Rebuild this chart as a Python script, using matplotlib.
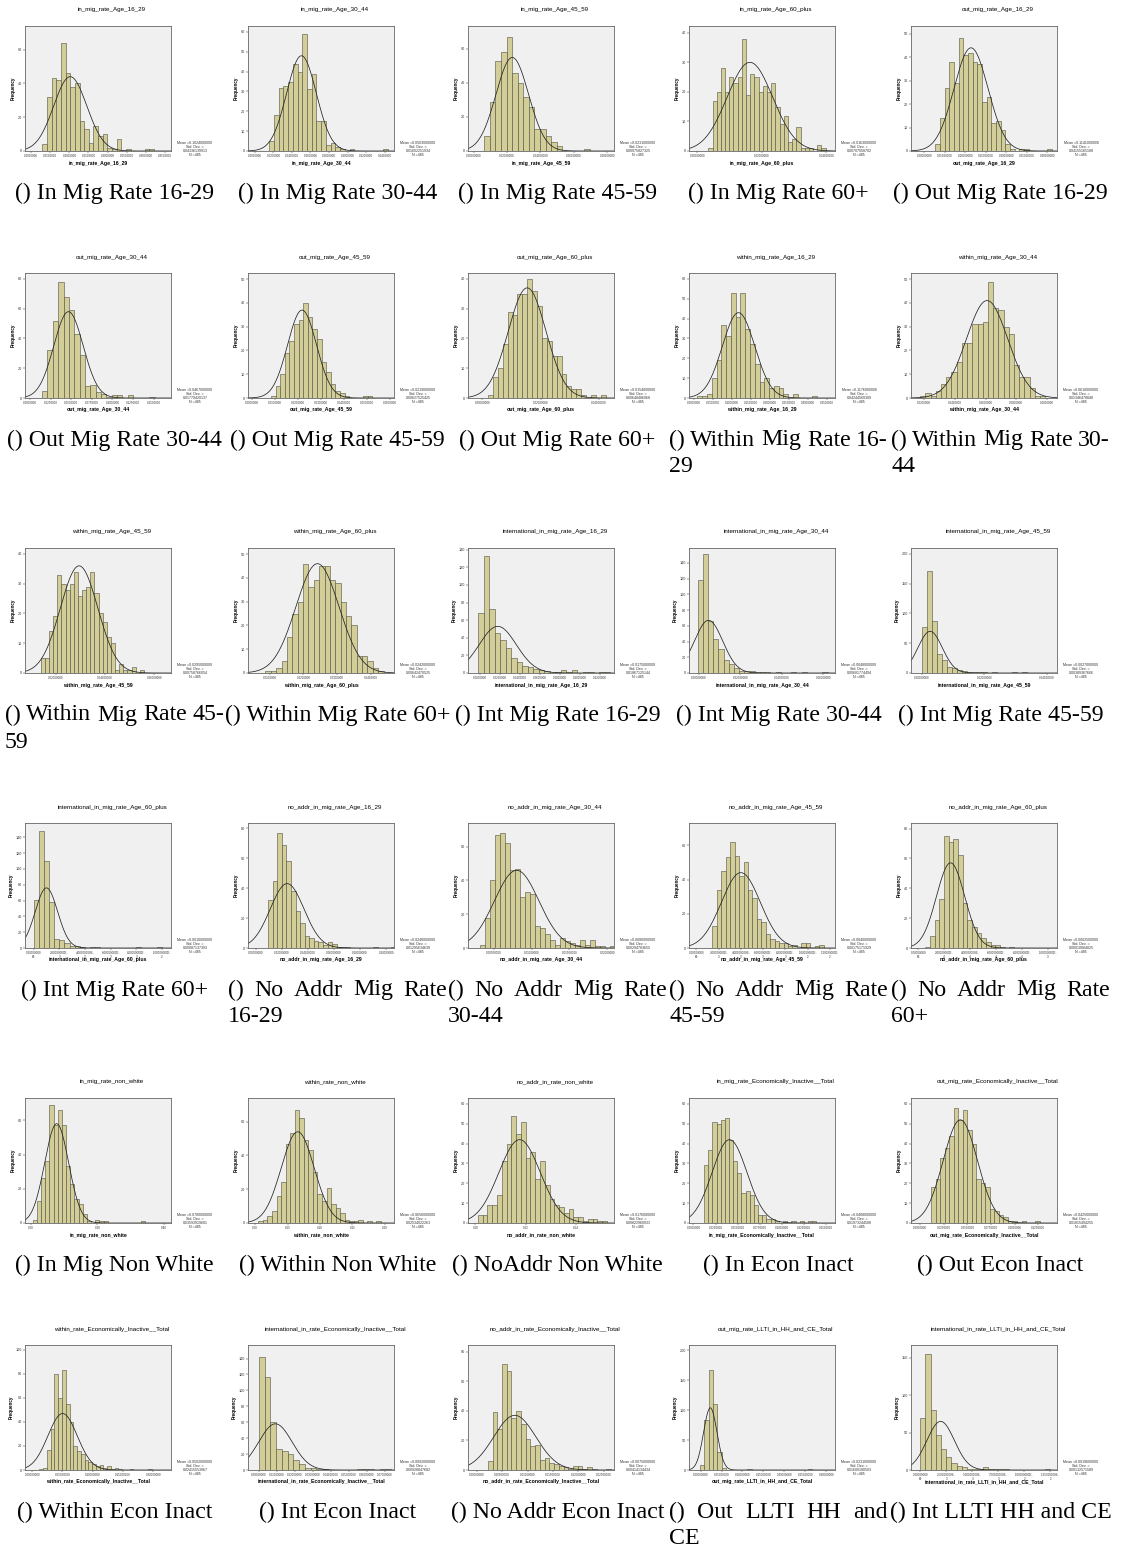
import numpy as np
import matplotlib
matplotlib.use("Agg")
import matplotlib.pyplot as plt

W, H = 1124, 1549

titles = [
    "in_mig_rate_Age_16_29", "in_mig_rate_Age_30_44", "in_mig_rate_Age_45_59",
    "in_mig_rate_Age_60_plus", "out_mig_rate_Age_16_29",
    "out_mig_rate_Age_30_44", "out_mig_rate_Age_45_59", "out_mig_rate_Age_60_plus",
    "within_mig_rate_Age_16_29", "within_mig_rate_Age_30_44",
    "within_mig_rate_Age_45_59", "within_mig_rate_Age_60_plus",
    "international_in_mig_rate_Age_16_29", "international_in_mig_rate_Age_30_44",
    "international_in_mig_rate_Age_45_59",
    "international_in_mig_rate_Age_60_plus", "no_addr_in_mig_rate_Age_16_29",
    "no_addr_in_mig_rate_Age_30_44", "no_addr_in_mig_rate_Age_45_59",
    "no_addr_in_mig_rate_Age_60_plus",
    "in_mig_rate_non_white", "within_rate_non_white", "no_addr_in_rate_non_white",
    "in_mig_rate_Economically_Inactive__Total",
    "out_mig_rate_Economically_Inactive__Total",
    "within_rate_Economically_Inactive__Total",
    "international_in_rate_Economically_Inactive__Total",
    "no_addr_in_rate_Economically_Inactive__Total",
    "out_mig_rate_LLTI_in_HH_and_CE_Total",
    "international_in_rate_LLTI_in_HH_and_CE_Total",
]

captions = [
    "() In Mig Rate 16-29", "() In Mig Rate 30-44", "() In Mig Rate 45-59",
    "() In Mig Rate 60+", "() Out Mig Rate 16-29",
    "() Out Mig Rate 30-44", "() Out Mig Rate 45-59", "() Out Mig Rate 60+",
    "() Within Mig Rate 16-\n29", "() Within Mig Rate 30-\n44",
    "() Within Mig Rate 45-\n59", "() Within Mig Rate 60+", "() Int Mig Rate 16-29",
    "() Int Mig Rate 30-44", "() Int Mig Rate 45-59",
    "() Int Mig Rate 60+", "() No Addr Mig Rate\n16-29", "() No Addr Mig Rate\n30-44",
    "() No Addr Mig Rate\n45-59", "() No Addr Mig Rate\n60+",
    "() In Mig Non White", "() Within Non White", "() NoAddr Non White",
    "() In Econ Inact", "() Out Econ Inact",
    "() Within Econ Inact", "() Int Econ Inact", "() No Addr Econ Inact",
    "() Out LLTI HH and\nCE", "() Int LLTI HH and CE",
]

xlims = [
    (-0.016, 0.366), (-0.0073, 0.150), (-0.0034, 0.084), (-0.0026, 0.0427), (-0.0324, 0.324),
    (-0.006, 0.171), (-0.0016, 0.0619), (-0.0049, 0.0452), (-0.012, 0.37), (0.0114, 0.1066),
    (0.0076, 0.0667), (0.0035, 0.047), (-0.0123, 0.134), (-0.0046, 0.0656), (-0.0034, 0.0432),
    (-0.00067, 0.0107), (-0.006, 0.106), (0.00155, 0.0209), (-0.00066, 0.01246), (-5.5e-5, 1.07e-3),
    (-0.017, 0.421), (-0.011, 0.214), (-0.0029, 0.0551), (-0.005, 0.16), (-0.0098, 0.145),
    (-0.0118, 0.229), (-0.006, 0.075), (-0.0017, 0.027), (-0.0278, 0.321), (-0.00089, 0.01315),
]

# (first tick, last tick, step)
xtick_specs = [
    (0, 0.35, 0.05), (0, 0.14, 0.02), (0, 0.08, 0.02), (0, 0.04, 0.02), (0, 0.30, 0.05),
    (0, 0.15, 0.025), (0, 0.06, 0.01), (0, 0.04, 0.02), (0, 0.35, 0.05), (0.02, 0.10, 0.02),
    (0.02, 0.06, 0.02), (0.01, 0.04, 0.01), (0, 0.12, 0.02), (0, 0.06, 0.02), (0, 0.04, 0.02),
    (0, 0.010, 0.002), (0, 0.10, 0.02), (0.005, 0.020, 0.005), (0, 0.012, 0.002), (0, 0.001, 0.0002),
    (0, 0.4, 0.2), (0, 0.20, 0.05), (0, 0.04, 0.02), (0, 0.15, 0.025), (0, 0.125, 0.025),
    (0, 0.20, 0.05), (0, 0.07, 0.01), (0, 0.025, 0.005), (0, 0.30, 0.05), (0, 0.0125, 0.0025),
]

tick_fmt = [
    "f7", "f7", "f8", "f8", "f8",
    "f7", "f7", "f8", "f7", "f7",
    "f8", "f7", "f7", "f8", "f8",
    "sci", "f8", "f8", "sci", "sci",
    "f2", "f2", "f2", "f7", "f7",
    "f8", "f8", "f8", "f8", "sci",
]

bin_start = [
    0.029, 0.0155, 0.0064, 0.0034, 0.0267,
    0.0147, 0.0084, 0.002, 0.01, 0.0174,
    0.014, 0.0087, -0.002, -0.0005, 0.0,
    0.0, 0.0095, 0.0032, 0.00144, 5.5e-5,
    0.006, 0.005, 0.001, 0.012, 0.0114,
    0.012, 0.0, 0.0022, -0.0015, 0.0,
]

bin_width = [
    0.0122, 0.0051, 0.00333, 0.0013, 0.0114,
    0.0065, 0.002, 0.00168, 0.0125, 0.0034,
    0.00167, 0.0016, 0.0055, 0.0025, 0.0016,
    0.0004, 0.0035, 0.00066, 0.0004, 3.6e-5,
    0.0125, 0.007, 0.0019, 0.0047, 0.0048,
    0.0062, 0.0032, 0.00093, 0.0103, 0.0005,
]

counts = [
    [4, 32, 43, 42, 64, 46, 38, 40, 18, 13, 5, 15, 9, 10, 2, 1, 7, 0, 1, 0, 0, 0, 1, 1],
    [5, 18, 32, 33, 35, 44, 40, 59, 31, 39, 15, 15, 3, 4, 2, 1, 0, 1, 0, 0, 0, 0, 0, 0, 1],
    [9, 29, 53, 58, 67, 46, 40, 32, 26, 13, 13, 9, 5, 3, 0, 0, 0, 0, 1],
    [1, 17, 20, 28, 20, 25, 23, 25, 38, 19, 26, 25, 20, 22, 20, 23, 15, 9, 12, 3, 4, 8, 1, 1, 1, 0, 2, 1],
    [3, 14, 27, 38, 29, 48, 41, 42, 38, 37, 21, 23, 12, 13, 9, 3, 1, 0, 1, 1, 0, 0, 0, 0, 1],
    [5, 32, 52, 78, 68, 59, 43, 29, 8, 9, 4, 3, 1, 2, 2, 0, 2, 0, 0, 0, 1],
    [1, 5, 10, 19, 24, 31, 33, 40, 34, 29, 25, 15, 11, 6, 3, 2, 1, 0, 0, 0, 1, 1],
    [1, 7, 10, 18, 29, 28, 35, 35, 40, 36, 31, 20, 19, 14, 14, 8, 4, 3, 3, 1, 0, 1, 0, 1],
    [1, 1, 2, 10, 19, 37, 31, 53, 41, 53, 35, 27, 17, 8, 10, 5, 6, 5, 2, 0, 2, 0, 0, 0, 1],
    [1, 2, 1, 3, 6, 9, 11, 15, 23, 23, 31, 31, 32, 49, 38, 37, 30, 27, 14, 9, 9, 4, 1, 1],
    [5, 5, 14, 19, 33, 30, 28, 30, 34, 26, 28, 29, 34, 27, 20, 17, 12, 10, 1, 3, 1, 1, 2, 0, 1],
    [1, 1, 2, 5, 15, 25, 30, 46, 36, 39, 45, 45, 39, 38, 30, 24, 20, 7, 7, 5, 2, 1],
    [68, 133, 73, 45, 38, 28, 17, 12, 8, 7, 5, 3, 2, 0, 1, 3, 1, 3, 0, 1, 1, 0, 1, 1],
    [118, 151, 66, 43, 31, 16, 12, 6, 3, 3, 2, 1, 1, 1, 0, 1, 0, 0, 1, 0, 1, 0, 0, 0, 1],
    [78, 172, 88, 32, 22, 10, 8, 5, 3, 2, 2, 1, 1, 0, 1, 0, 0, 0, 1, 0, 1],
    [61, 148, 110, 58, 12, 10, 6, 3, 2, 1, 0, 1, 1, 0, 0, 0, 0, 0, 0, 0, 1, 0, 0, 0, 1],
    [32, 45, 77, 69, 58, 38, 25, 17, 8, 7, 5, 4, 2, 4, 3, 1, 1, 1, 0, 0, 0, 0, 0, 1, 0, 0, 0, 1],
    [2, 18, 40, 67, 68, 62, 46, 47, 30, 33, 32, 13, 12, 8, 5, 2, 6, 4, 3, 2, 5, 2, 5, 1, 1, 0, 1],
    [13, 34, 45, 53, 62, 54, 42, 50, 34, 29, 17, 15, 8, 5, 4, 3, 3, 1, 2, 0, 3, 3, 0, 1, 2],
    [1, 8, 19, 33, 75, 71, 73, 62, 30, 19, 14, 10, 7, 4, 2, 2, 1, 0, 1],
    [2, 13, 26, 36, 69, 57, 66, 57, 33, 23, 14, 11, 5, 1, 0, 2, 1, 1, 0, 0, 0, 0, 0, 0, 0, 0, 1],
    [1, 2, 4, 7, 16, 24, 47, 53, 67, 62, 49, 43, 30, 17, 13, 21, 11, 9, 6, 2, 1, 1, 2, 0, 1, 0, 1],
    [4, 4, 9, 9, 14, 31, 40, 54, 45, 51, 33, 36, 22, 31, 19, 12, 9, 8, 5, 7, 3, 3, 1, 2, 2, 1, 1],
    [29, 37, 51, 50, 52, 53, 42, 31, 25, 15, 16, 14, 9, 4, 4, 2, 2, 1, 0, 1, 0, 1, 0, 1, 0, 1, 1],
    [18, 22, 33, 38, 44, 58, 52, 57, 47, 40, 22, 20, 18, 7, 6, 4, 3, 1, 1, 0, 1, 0, 0, 1],
    [1, 2, 17, 34, 80, 60, 83, 55, 40, 20, 16, 13, 8, 7, 5, 3, 4, 2, 3, 1, 2, 1, 0, 0, 1, 0, 0, 0, 0, 1],
    [142, 117, 60, 26, 24, 20, 13, 8, 3, 2, 1, 1, 0, 0, 0, 0, 0, 1, 1, 1, 0, 1, 1],
    [6, 39, 28, 72, 67, 35, 40, 31, 21, 16, 17, 7, 8, 5, 4, 3, 2, 1, 3, 3, 1, 2, 1, 0, 0, 1],
    [8, 84, 167, 110, 30, 4, 0, 0, 0, 0, 0, 1, 0, 0, 0, 0, 0, 0, 0, 0, 0, 0, 0, 0, 0, 1],
    [70, 155, 80, 47, 28, 18, 10, 5, 4, 2, 1, 2, 4, 2, 1, 1, 1, 0, 0, 0, 0, 0, 0, 0, 1],
]

y_max = [
    74, 63, 73.5, 42.3, 53.3,
    84, 52.6, 42, 63, 52.6,
    42, 52.6, 142, 159, 210,
    158, 83.5, 74, 73, 83.7,
    73, 74, 63, 63, 63,
    104, 157, 84.6, 209, 167,
]
y_step = [
    20, 10, 20, 10, 10,
    20, 10, 10, 10, 10,
    10, 10, 20, 20, 50,
    20, 20, 20, 20, 20,
    20, 20, 10, 10, 10,
    20, 20, 20, 50, 50,
]

means = [
    0.1024, 0.0503, 0.0231, 0.0163, 0.1141,
    0.0467, 0.0219, 0.0154, 0.1176, 0.061,
    0.0295, 0.0242, 0.0175, 0.0048, 0.0027,
    0.001, 0.024, 0.0080, 0.0040, 0.00025,
    0.078, 0.0656, 0.0176, 0.0408, 0.0425,
    0.0502, 0.0092, 0.0075, 0.0231, 0.00196,
]
curve_peak = [
    44, 48, 55, 30, 44,
    58, 37, 37, 43, 41,
    36, 46, 53, 67, 70,
    76, 43, 46, 44, 57,
    58, 54, 42, 42, 52,
    47, 58, 37, 104, 65,
]
n_obs = 485

box_x = [5, 228, 448, 669, 891]
row_y = [12, 259, 534, 809, 1084, 1331]
box_w = 219

bar_col = "#D3CE97"
bar_edge = "#4f4f42"
serif = "Liberation Serif"
sans = "Liberation Sans"


def fmt_tick(v, kind):
    if kind == "f2":
        return "%.2f" % v
    if kind == "f7":
        return "%.7f" % v
    if kind == "f8":
        return "%.8f" % v
    if abs(v) < 1e-12:
        return "0.00000000\n00"
    e = int(np.floor(np.log10(v) + 1e-9))
    return "%.8fE-\n%d" % (v / 10 ** e, -e)


def fx(px):
    return px / W


def fy(py):
    return 1 - py / H


fig = plt.figure(figsize=(W / 100, H / 100), dpi=100)
fig.patch.set_facecolor("white")
renderer = fig.canvas.get_renderer()


def justify(x0, width, y, line, **kw):
    words = line.split(" ")
    ts = [fig.text(0, fy(y), w, ha="left", va="center", **kw) for w in words]
    widths = [t.get_window_extent(renderer).width for t in ts]
    gap = (width - sum(widths)) / max(len(words) - 1, 1)
    x = x0
    for t, w in zip(ts, widths):
        t.set_x(fx(x))
        x += w + gap


for i in range(30):
    r, c = divmod(i, 5)
    bx, ty = box_x[c], row_y[r]
    ax_l, ax_r = bx + 20, bx + 166
    ax_t, ax_b = ty + 14, ty + 139
    ax = fig.add_axes([fx(ax_l), fy(ax_b), fx(ax_r - ax_l), (ax_b - ax_t) / H])
    ax.set_facecolor("#F0F0F0")

    cnt = np.array(counts[i], dtype=float)
    bw = bin_width[i]
    left = bin_start[i] + bw * np.arange(len(cnt))
    ax.bar(left, cnt, width=bw, align="edge", color=bar_col,
           edgecolor=bar_edge, linewidth=0.4)

    # fitted normal curve (area = histogram area)
    sd = cnt.sum() * bw / (curve_peak[i] * np.sqrt(2 * np.pi))
    xs = np.linspace(xlims[i][0], xlims[i][1], 400)
    ys = curve_peak[i] * np.exp(-0.5 * ((xs - means[i]) / sd) ** 2)
    ax.plot(xs, ys, color="#222222", lw=0.55)

    ax.set_xlim(*xlims[i])
    ax.set_ylim(0, y_max[i])
    a, b, s = xtick_specs[i]
    tv = np.arange(a, b + s / 2, s)
    ax.set_xticks(tv)
    ax.set_xticklabels([fmt_tick(v, tick_fmt[i]) for v in tv], fontsize=2.2,
                       family=sans, linespacing=0.9)
    yv = np.arange(0, y_max[i], y_step[i])
    ax.set_yticks(yv)
    ax.set_yticklabels(["%d" % v for v in yv], fontsize=2.7, family=sans)
    ax.tick_params(length=1.4, width=0.35, pad=0.8, colors="#333333")
    for sp in ax.spines.values():
        sp.set_color("#666666")
        sp.set_linewidth(0.6)
    ax.set_ylabel("Frequency", fontsize=3.3, fontweight="bold", family=sans,
                  labelpad=1.5)

    fig.text(fx(bx + 107), fy(ty - 2), titles[i], ha="center", va="center",
             fontsize=4.5, family=sans)
    fig.text(fx((ax_l + ax_r) / 2), fy(ty + 151), titles[i], ha="center",
             va="center", fontsize=3.7, fontweight="bold", family=sans)
    stats = "Mean =%.10f\nStd. Dev. =\n%.11f\nN =%d" % (means[i], sd, n_obs)
    fig.text(fx(bx + 190), fy(ty + 145), stats, ha="center", va="bottom",
             fontsize=2.6, family=sans, linespacing=0.95, color="#333333")

    cap = captions[i]
    if "\n" in cap:
        first, second = cap.split("\n")
        justify(bx, box_w, ty + 181, first, fontsize=17.2, family=serif)
        fig.text(fx(bx), fy(ty + 208), second, ha="left", va="center",
                 fontsize=17.2, family=serif)
    else:
        fig.text(fx(bx + box_w / 2), fy(ty + 181), cap, ha="center",
                 va="center", fontsize=17.2, family=serif)

fig.savefig("out.png", dpi=100)
